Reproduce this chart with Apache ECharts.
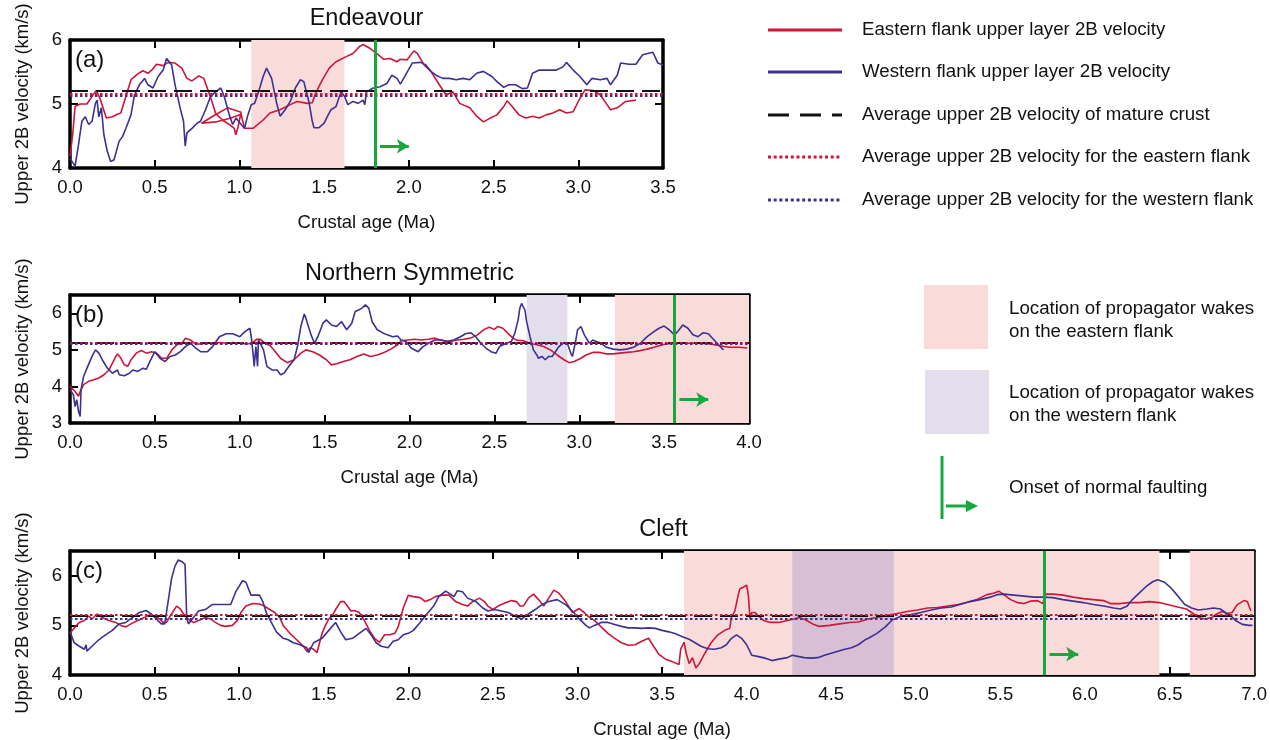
<!DOCTYPE html>
<html>
<head>
<meta charset="utf-8">
<title>Upper 2B velocity vs crustal age</title>
<script src="https://cdn.jsdelivr.net/npm/echarts@6/dist/echarts.min.js"></script>
<style>
html, body { margin: 0; padding: 0; background: #fff; }
#chart { width: 1270px; height: 740px; }
</style>
</head>
<body>
<div id="chart"></div>
<script>
// ---- data (crustal age in Ma, velocity in km/s) ----
var endeavourEast = [[0.00,4.18],[0.015,4.5],[0.03,4.96],[0.06,5.0],[0.10,5.0],[0.13,5.12],[0.155,5.21],[0.175,5.1],[0.20,4.9],[0.215,4.78],[0.25,4.8],[0.28,4.84],[0.30,4.86],[0.33,5.12],[0.36,5.38],[0.40,5.47],[0.43,5.52],[0.46,5.48],[0.49,5.55],[0.51,5.62],[0.55,5.6],[0.58,5.65],[0.62,5.64],[0.66,5.56],[0.69,5.40],[0.72,5.36],[0.76,5.44],[0.79,5.40],[0.83,5.1],[0.86,4.85],[0.90,4.75],[0.94,4.68],[0.97,4.62],[0.978,4.52],[0.99,4.62],[1.01,4.87],[0.93,4.94],[0.85,4.82],[0.776,4.70],[0.86,4.72],[0.95,4.78],[1.01,4.84],[1.03,4.62],[1.08,4.62],[1.14,4.75],[1.18,4.86],[1.24,4.91],[1.30,4.99],[1.34,5.04],[1.40,5.01],[1.43,5.02],[1.45,5.17],[1.49,5.38],[1.53,5.56],[1.57,5.66],[1.63,5.74],[1.67,5.79],[1.71,5.90],[1.73,5.93],[1.77,5.87],[1.81,5.79],[1.85,5.70],[1.89,5.71],[1.93,5.66],[1.95,5.70],[1.99,5.69],[2.03,5.83],[2.05,5.79],[2.09,5.61],[2.13,5.51],[2.18,5.30],[2.22,5.14],[2.26,5.19],[2.30,5.01],[2.36,4.94],[2.40,4.81],[2.44,4.72],[2.48,4.78],[2.52,4.83],[2.56,4.96],[2.58,5.05],[2.61,4.96],[2.65,4.83],[2.69,4.78],[2.73,4.81],[2.77,4.78],[2.81,4.83],[2.85,4.86],[2.89,4.91],[2.93,4.86],[2.97,4.88],[3.01,5.09],[3.04,5.22],[3.09,5.21],[3.13,5.14],[3.17,4.99],[3.19,4.91],[3.23,4.94],[3.28,5.04],[3.34,5.06]];
var endeavourWest = [[0.0,4.15],[0.01,4.13],[0.03,4.03],[0.05,4.36],[0.07,4.73],[0.09,4.8],[0.11,4.68],[0.13,4.73],[0.15,5.01],[0.16,5.06],[0.17,4.8],[0.185,4.94],[0.20,4.52],[0.22,4.26],[0.24,4.10],[0.26,4.13],[0.29,4.42],[0.31,4.49],[0.33,4.62],[0.36,4.83],[0.38,5.14],[0.41,5.30],[0.44,5.40],[0.46,5.30],[0.49,5.25],[0.52,5.43],[0.55,5.53],[0.57,5.71],[0.58,5.74],[0.60,5.61],[0.62,5.30],[0.65,4.94],[0.67,4.73],[0.68,4.34],[0.69,4.55],[0.72,4.62],[0.75,4.70],[0.77,4.73],[0.80,4.91],[0.83,5.12],[0.86,5.19],[0.89,5.25],[0.91,5.12],[0.94,4.83],[0.96,4.68],[0.98,4.78],[1.01,4.68],[1.03,4.62],[1.05,4.83],[1.07,4.99],[1.09,5.01],[1.12,5.25],[1.14,5.43],[1.16,5.56],[1.19,5.40],[1.22,5.01],[1.24,4.81],[1.27,4.91],[1.30,5.04],[1.33,5.25],[1.36,5.38],[1.38,5.35],[1.41,5.04],[1.43,4.73],[1.44,4.63],[1.47,4.63],[1.50,4.70],[1.52,4.81],[1.54,4.91],[1.57,4.96],[1.60,5.19],[1.62,5.12],[1.64,4.99],[1.67,5.04],[1.70,5.01],[1.73,5.06],[1.74,4.99],[1.75,5.19],[1.79,5.25],[1.83,5.27],[1.87,5.32],[1.90,5.45],[1.93,5.40],[1.95,5.31],[1.98,5.45],[2.02,5.64],[2.07,5.65],[2.10,5.61],[2.13,5.51],[2.16,5.45],[2.20,5.40],[2.24,5.40],[2.28,5.38],[2.32,5.40],[2.36,5.38],[2.40,5.48],[2.44,5.51],[2.49,5.43],[2.52,5.35],[2.56,5.26],[2.59,5.30],[2.63,5.30],[2.67,5.24],[2.70,5.25],[2.73,5.48],[2.77,5.53],[2.81,5.53],[2.87,5.53],[2.91,5.58],[2.93,5.65],[2.97,5.53],[3.01,5.43],[3.05,5.30],[3.08,5.40],[3.13,5.38],[3.17,5.40],[3.19,5.30],[3.23,5.45],[3.25,5.64],[3.30,5.62],[3.34,5.62],[3.38,5.77],[3.44,5.81],[3.47,5.64],[3.50,5.61]];

var northEast = [[0.0,4.0],[0.03,3.86],[0.05,3.73],[0.06,3.86],[0.08,4.05],[0.11,4.14],[0.14,4.18],[0.17,4.23],[0.20,4.32],[0.23,4.45],[0.25,4.64],[0.27,4.82],[0.28,4.89],[0.30,4.77],[0.32,4.59],[0.34,4.55],[0.36,4.73],[0.39,4.91],[0.42,4.98],[0.45,4.91],[0.48,4.95],[0.51,4.91],[0.54,4.77],[0.57,4.77],[0.60,5.0],[0.63,5.14],[0.66,5.18],[0.68,5.32],[0.71,5.27],[0.74,5.16],[0.77,5.16],[0.81,5.18],[0.84,5.18],[0.88,5.2],[0.92,5.18],[0.96,5.2],[1.0,5.18],[1.04,5.16],[1.07,5.18],[1.10,5.29],[1.12,5.29],[1.15,5.18],[1.18,5.11],[1.21,4.95],[1.24,4.77],[1.28,4.65],[1.32,4.73],[1.36,4.91],[1.39,5.0],[1.43,4.95],[1.47,4.86],[1.51,4.73],[1.54,4.59],[1.57,4.62],[1.61,4.68],[1.65,4.73],[1.69,4.82],[1.73,4.89],[1.77,4.82],[1.81,4.86],[1.85,4.93],[1.89,5.02],[1.93,5.14],[1.95,5.25],[1.99,5.27],[2.03,5.29],[2.07,5.27],[2.11,5.29],[2.15,5.32],[2.18,5.27],[2.20,5.25],[2.24,5.23],[2.28,5.27],[2.32,5.29],[2.36,5.32],[2.40,5.41],[2.44,5.56],[2.47,5.62],[2.50,5.56],[2.52,5.64],[2.55,5.59],[2.58,5.45],[2.61,5.32],[2.63,5.27],[2.67,5.25],[2.71,5.18],[2.75,5.14],[2.79,5.09],[2.83,5.0],[2.87,4.86],[2.91,4.73],[2.94,4.65],[2.97,4.68],[3.01,4.77],[3.04,4.86],[3.08,4.93],[3.12,4.93],[3.16,4.89],[3.20,4.89],[3.24,4.91],[3.28,4.93],[3.32,4.95],[3.36,4.98],[3.40,5.02],[3.44,5.07],[3.47,5.11],[3.51,5.16],[3.55,5.18],[3.59,5.18],[3.65,5.18],[3.71,5.18],[3.77,5.16],[3.83,5.11],[3.88,5.07],[3.94,5.07],[3.99,5.05]];
var northWest = [[0.0,3.91],[0.02,3.77],[0.03,3.45],[0.04,3.64],[0.05,3.32],[0.06,3.18],[0.065,3.91],[0.08,4.27],[0.10,4.5],[0.13,4.82],[0.15,5.0],[0.17,4.91],[0.19,4.73],[0.22,4.5],[0.25,4.36],[0.28,4.45],[0.29,4.32],[0.32,4.29],[0.35,4.36],[0.37,4.45],[0.40,4.41],[0.43,4.5],[0.45,4.47],[0.47,4.68],[0.50,4.95],[0.53,4.77],[0.56,4.68],[0.59,4.82],[0.62,4.86],[0.65,4.95],[0.68,5.09],[0.71,5.18],[0.74,5.05],[0.77,4.95],[0.81,4.95],[0.84,5.09],[0.88,5.36],[0.92,5.44],[0.96,5.44],[1.0,5.36],[1.03,5.5],[1.06,5.59],[1.07,5.27],[1.08,4.82],[1.085,4.55],[1.095,5.09],[1.105,4.55],[1.11,5.27],[1.14,5.0],[1.16,4.55],[1.19,4.45],[1.22,4.45],[1.24,4.32],[1.26,4.36],[1.29,4.55],[1.32,4.73],[1.34,5.09],[1.36,5.64],[1.38,5.98],[1.39,5.86],[1.42,5.41],[1.44,5.18],[1.46,5.36],[1.49,5.73],[1.51,5.82],[1.54,5.68],[1.57,5.64],[1.60,5.77],[1.63,5.55],[1.66,5.73],[1.68,6.05],[1.70,6.09],[1.72,6.14],[1.74,6.23],[1.76,6.14],[1.78,5.77],[1.81,5.55],[1.84,5.47],[1.87,5.41],[1.90,5.36],[1.93,5.38],[1.95,5.27],[1.98,5.23],[2.01,5.05],[2.05,4.95],[2.08,5.09],[2.11,5.18],[2.15,5.27],[2.19,5.27],[2.22,5.23],[2.26,5.27],[2.30,5.36],[2.33,5.44],[2.36,5.47],[2.39,5.36],[2.42,5.18],[2.45,5.05],[2.48,4.95],[2.51,4.91],[2.53,5.09],[2.57,5.18],[2.60,5.23],[2.62,5.45],[2.64,5.82],[2.65,6.14],[2.66,6.27],[2.68,6.09],[2.69,5.77],[2.71,5.36],[2.73,5.0],[2.75,4.86],[2.76,4.77],[2.78,4.82],[2.80,4.73],[2.82,4.82],[2.84,4.82],[2.86,4.95],[2.88,5.09],[2.91,5.2],[2.93,5.18],[2.95,4.91],[2.96,4.82],[2.98,5.27],[2.99,5.55],[3.01,5.64],[3.02,5.68],[3.03,5.41],[3.04,5.41],[3.06,5.18],[3.08,5.27],[3.10,5.23],[3.13,5.18],[3.16,5.07],[3.20,5.02],[3.24,5.0],[3.28,5.02],[3.32,5.07],[3.36,5.18],[3.40,5.36],[3.44,5.5],[3.47,5.59],[3.50,5.65],[3.53,5.55],[3.56,5.41],[3.58,5.5],[3.61,5.68],[3.64,5.59],[3.67,5.41],[3.70,5.36],[3.73,5.47],[3.76,5.44],[3.79,5.29],[3.82,5.14],[3.85,5.0]];

var cleftEast = [[0.0,4.84],[0.03,4.97],[0.055,5.06],[0.085,5.1],[0.11,5.19],[0.13,5.13],[0.16,5.23],[0.19,5.16],[0.23,5.1],[0.27,5.06],[0.30,5.0],[0.33,4.97],[0.36,5.03],[0.40,5.1],[0.44,5.16],[0.47,5.21],[0.50,5.19],[0.53,5.13],[0.55,5.06],[0.57,5.06],[0.60,5.23],[0.63,5.39],[0.65,5.34],[0.68,5.19],[0.71,5.1],[0.73,5.06],[0.76,5.1],[0.80,5.16],[0.83,5.13],[0.86,5.06],[0.89,5.0],[0.92,4.98],[0.96,5.0],[0.99,5.1],[1.01,5.26],[1.04,5.39],[1.08,5.44],[1.12,5.43],[1.15,5.39],[1.18,5.32],[1.21,5.26],[1.24,5.16],[1.26,5.0],[1.30,4.84],[1.34,4.71],[1.38,4.58],[1.40,4.48],[1.42,4.55],[1.44,4.52],[1.46,4.45],[1.47,4.58],[1.49,4.84],[1.51,5.0],[1.53,5.13],[1.55,5.19],[1.57,5.32],[1.60,5.48],[1.62,5.48],[1.64,5.39],[1.66,5.29],[1.68,5.3],[1.71,5.26],[1.74,5.1],[1.77,4.9],[1.80,4.74],[1.83,4.66],[1.86,4.81],[1.89,4.81],[1.92,4.84],[1.94,4.97],[1.97,5.35],[2.0,5.61],[2.03,5.58],[2.07,5.56],[2.10,5.48],[2.13,5.52],[2.16,5.58],[2.20,5.61],[2.24,5.61],[2.28,5.48],[2.32,5.42],[2.35,5.39],[2.38,5.48],[2.42,5.55],[2.45,5.48],[2.47,5.39],[2.50,5.32],[2.53,5.39],[2.57,5.45],[2.61,5.5],[2.64,5.48],[2.66,5.39],[2.68,5.39],[2.71,5.55],[2.74,5.63],[2.77,5.52],[2.80,5.39],[2.83,5.55],[2.86,5.71],[2.89,5.65],[2.93,5.48],[2.97,5.26],[3.01,5.34],[3.04,5.26],[3.06,5.19],[3.10,5.1],[3.14,4.97],[3.18,4.84],[3.22,4.74],[3.26,4.65],[3.30,4.6],[3.34,4.61],[3.38,4.68],[3.42,4.74],[3.45,4.58],[3.48,4.42],[3.52,4.32],[3.56,4.27],[3.60,4.21],[3.61,4.52],[3.63,4.66],[3.64,4.48],[3.65,4.35],[3.66,4.23],[3.68,4.35],[3.69,4.32],[3.70,4.14],[3.72,4.23],[3.75,4.42],[3.79,4.65],[3.83,4.81],[3.87,4.9],[3.90,4.94],[3.91,5.16],[3.93,5.29],[3.95,5.61],[3.96,5.74],[3.98,5.77],[4.0,5.81],[4.01,5.61],[4.02,5.13],[4.03,5.26],[4.05,5.26],[4.07,5.19],[4.10,5.1],[4.14,5.06],[4.19,5.06],[4.24,5.1],[4.28,5.13],[4.31,5.16],[4.35,5.11],[4.39,5.03],[4.43,4.98],[4.49,5.0],[4.55,5.03],[4.61,5.06],[4.66,5.07],[4.72,5.13],[4.77,5.16],[4.83,5.2],[4.89,5.24],[4.95,5.28],[5.01,5.31],[5.07,5.35],[5.13,5.36],[5.19,5.39],[5.25,5.42],[5.30,5.46],[5.36,5.52],[5.42,5.62],[5.46,5.65],[5.49,5.69],[5.52,5.62],[5.56,5.52],[5.60,5.46],[5.64,5.44],[5.68,5.49],[5.72,5.5],[5.75,5.44],[5.76,5.46],[5.77,5.63],[5.81,5.63],[5.87,5.61],[5.93,5.57],[5.99,5.54],[6.05,5.52],[6.11,5.5],[6.15,5.44],[6.21,5.44],[6.26,5.46],[6.32,5.46],[6.38,5.48],[6.44,5.46],[6.50,5.41],[6.56,5.36],[6.60,5.33],[6.63,5.26],[6.67,5.16],[6.71,5.13],[6.75,5.16],[6.78,5.23],[6.81,5.28],[6.84,5.24],[6.87,5.26],[6.90,5.42],[6.94,5.5],[6.96,5.48],[6.98,5.29]];
var cleftWest = [[0.0,4.87],[0.025,4.65],[0.055,4.58],[0.085,4.52],[0.095,4.61],[0.10,4.48],[0.13,4.58],[0.17,4.71],[0.21,4.81],[0.25,4.9],[0.29,5.03],[0.33,5.06],[0.37,5.16],[0.41,5.26],[0.45,5.3],[0.48,5.23],[0.51,5.13],[0.54,5.03],[0.56,5.03],[0.58,5.48],[0.60,5.94],[0.62,6.19],[0.64,6.32],[0.66,6.29],[0.68,6.23],[0.69,5.16],[0.70,5.03],[0.73,5.16],[0.76,5.29],[0.80,5.32],[0.84,5.42],[0.88,5.42],[0.92,5.42],[0.95,5.42],[0.98,5.68],[1.02,5.9],[1.04,5.87],[1.07,5.61],[1.10,5.61],[1.12,5.61],[1.14,5.48],[1.16,5.26],[1.19,5.06],[1.22,4.87],[1.26,4.74],[1.29,4.71],[1.32,4.65],[1.36,4.61],[1.40,4.55],[1.41,4.45],[1.44,4.65],[1.49,4.74],[1.53,4.9],[1.57,5.06],[1.60,4.87],[1.63,4.71],[1.67,4.74],[1.71,4.84],[1.75,4.94],[1.78,4.81],[1.81,4.65],[1.84,4.58],[1.88,4.55],[1.91,4.68],[1.94,4.71],[1.97,4.81],[2.0,4.84],[2.03,4.9],[2.07,5.06],[2.11,5.23],[2.15,5.39],[2.18,5.58],[2.22,5.69],[2.24,5.65],[2.27,5.58],[2.29,5.7],[2.32,5.68],[2.35,5.55],[2.36,5.52],[2.40,5.48],[2.44,5.35],[2.47,5.29],[2.51,5.32],[2.55,5.29],[2.59,5.26],[2.63,5.19],[2.67,5.13],[2.71,5.23],[2.75,5.32],[2.79,5.42],[2.83,5.48],[2.88,5.52],[2.93,5.42],[2.97,5.29],[3.01,5.13],[3.05,5.0],[3.07,4.95],[3.10,5.0],[3.14,5.06],[3.18,5.06],[3.22,5.02],[3.26,4.98],[3.30,4.95],[3.34,4.95],[3.38,4.94],[3.42,4.95],[3.46,4.94],[3.50,4.9],[3.54,4.87],[3.58,4.83],[3.62,4.77],[3.66,4.72],[3.69,4.66],[3.73,4.58],[3.77,4.53],[3.81,4.52],[3.85,4.55],[3.88,4.61],[3.91,4.74],[3.94,4.81],[3.97,4.74],[4.0,4.61],[4.03,4.4],[4.07,4.37],[4.11,4.34],[4.15,4.29],[4.19,4.32],[4.24,4.35],[4.27,4.4],[4.31,4.37],[4.34,4.35],[4.38,4.34],[4.42,4.35],[4.46,4.4],[4.50,4.44],[4.54,4.48],[4.58,4.52],[4.62,4.55],[4.66,4.61],[4.70,4.71],[4.72,4.74],[4.77,4.84],[4.82,4.97],[4.86,5.11],[4.91,5.18],[4.97,5.22],[5.03,5.26],[5.09,5.31],[5.15,5.35],[5.21,5.37],[5.26,5.42],[5.32,5.48],[5.38,5.52],[5.44,5.57],[5.48,5.62],[5.52,5.63],[5.58,5.61],[5.64,5.59],[5.70,5.57],[5.75,5.57],[5.81,5.56],[5.87,5.52],[5.93,5.49],[5.99,5.46],[6.05,5.42],[6.11,5.39],[6.17,5.35],[6.21,5.33],[6.25,5.39],[6.28,5.52],[6.32,5.65],[6.36,5.78],[6.40,5.88],[6.43,5.92],[6.47,5.87],[6.51,5.75],[6.55,5.59],[6.59,5.42],[6.63,5.35],[6.67,5.31],[6.72,5.33],[6.76,5.35],[6.80,5.33],[6.83,5.26],[6.86,5.2],[6.89,5.1],[6.93,5.02],[6.97,5.0],[6.99,5.0]];

var panelTitles = ['Endeavour', 'Northern Symmetric', 'Cleft'];
var panelTags = ['(a)', '(b)', '(c)'];
var eastSeries = [endeavourEast, northEast, cleftEast];
var westSeries = [endeavourWest, northWest, cleftWest];
var ageMax = [3.5, 4.0, 7.0];
var velMin = [4, 3, 4];
var velMax = [6, 6.5, 6.5];
var matureAvg = [5.2, 5.2, 5.2];
var eastAvg = [5.16, 5.19, 5.21];
var westAvg = [5.13, 5.17, 5.13];
var eastWakes = [[[1.07, 1.62]], [[3.21, 4.0]], [[3.63, 6.44], [6.62, 7.0]]];
var westWakes = [[], [[2.69, 2.93]], [[4.27, 4.87]]];
var faultOnset = [1.80, 3.56, 5.765];
var faultArrow = [[1.83, 2.0, 4.34], [3.59, 3.76, 3.64], [5.79, 5.96, 4.42]];

var legendLines = [
    'Eastern flank upper layer 2B velocity',
    'Western flank upper layer 2B velocity',
    'Average upper 2B velocity of mature crust',
    'Average upper 2B velocity for the eastern flank',
    'Average upper 2B velocity for the western flank'
];

// ---- styles / layout ----
var FONT = '"Liberation Sans", Arial, Helvetica, sans-serif';
var RED = '#cf1539';
var BLUE = '#3c3193';
var GREEN = '#17a83b';
var PINK = '#f9dcd9';
var PURPLE = ['#e3ddec', '#e3ddec', '#d9bfd6'];
var AXIS_FONT = 18.5;
var LEGEND_FONT = '18.7px ' + FONT;

var boxes = [
    { left: 70, top: 40, width: 593, height: 128 },
    { left: 70, top: 295, width: 679, height: 128 },
    { left: 70, top: 551, width: 1187, height: 127 }
];

var chart = echarts.init(document.getElementById('chart'));

var grids = [], xAxes = [], yAxes = [], series = [], graphics = [];

function frameLine() {
    return { show: true, onZero: false, lineStyle: { color: '#000', width: 3.5 } };
}
function frameTick() {
    return { show: true, inside: true, length: 8, lineStyle: { color: '#000', width: 2 } };
}

for (var i = 0; i < 3; i++) {
    var b = boxes[i];
    grids.push({ left: b.left, top: b.top, width: b.width, height: b.height, containLabel: false });

    // bottom + top x axes
    xAxes.push({
        type: 'value', gridIndex: i, position: 'bottom', min: 0, max: ageMax[i], interval: 0.5,
        axisLine: frameLine(), axisTick: frameTick(), splitLine: { show: false },
        axisLabel: { margin: 10, color: '#111', fontSize: AXIS_FONT, fontFamily: FONT,
            formatter: function (v) { return v.toFixed(1); } },
        name: 'Crustal age (Ma)', nameLocation: 'middle', nameGap: 45,
        nameTextStyle: { fontSize: AXIS_FONT, color: '#111', fontFamily: FONT }
    });
    xAxes.push({
        type: 'value', gridIndex: i, position: 'top', min: 0, max: ageMax[i], interval: 0.5,
        axisLine: frameLine(), axisTick: frameTick(), splitLine: { show: false },
        axisLabel: { show: false }
    });
    // left + right y axes
    yAxes.push({
        type: 'value', gridIndex: i, position: 'left', min: velMin[i], max: velMax[i], interval: 1,
        axisLine: frameLine(), axisTick: frameTick(), splitLine: { show: false },
        axisLabel: { margin: 8, color: '#111', fontSize: AXIS_FONT, fontFamily: FONT,
            showMaxLabel: velMax[i] % 1 === 0 },
        name: 'Upper 2B velocity (km/s)', nameLocation: 'middle', nameGap: 38, nameRotate: 90,
        nameTextStyle: { fontSize: AXIS_FONT, color: '#111', fontFamily: FONT }
    });
    yAxes.push({
        type: 'value', gridIndex: i, position: 'right', min: velMin[i], max: velMax[i], interval: 1,
        axisLine: frameLine(), axisTick: frameTick(), splitLine: { show: false },
        axisLabel: { show: false }
    });

    var xi = 2 * i, yi = 2 * i;

    // propagator wake shading
    var areas = [];
    eastWakes[i].forEach(function (w) {
        areas.push([{ xAxis: w[0], itemStyle: { color: PINK } }, { xAxis: w[1] }]);
    });
    westWakes[i].forEach(function (w) {
        areas.push([{ xAxis: w[0], itemStyle: { color: PURPLE[i] } }, { xAxis: w[1] }]);
    });
    series.push({
        type: 'line', xAxisIndex: xi, yAxisIndex: yi, data: [], z: 1, silent: true,
        markArea: { silent: true, data: areas }
    });

    // velocity profiles
    series.push({
        name: 'east' + i, type: 'line', xAxisIndex: xi, yAxisIndex: yi, data: eastSeries[i],
        showSymbol: false, symbol: 'none', z: 3,
        lineStyle: { color: RED, width: 1.6 }, itemStyle: { color: RED }
    });
    series.push({
        name: 'west' + i, type: 'line', xAxisIndex: xi, yAxisIndex: yi, data: westSeries[i],
        showSymbol: false, symbol: 'none', z: 3,
        lineStyle: { color: BLUE, width: 1.6 }, itemStyle: { color: BLUE }
    });

    // average reference lines + onset of normal faulting
    series.push({
        type: 'line', xAxisIndex: xi, yAxisIndex: yi, data: [], z: 4, silent: true,
        markLine: {
            silent: true, symbol: 'none', label: { show: false },
            data: [
                { yAxis: matureAvg[i], lineStyle: { color: '#111', width: 2, type: [18, 8] } },
                { yAxis: eastAvg[i], lineStyle: { color: RED, width: 2, type: [2.5, 2.5] } },
                { yAxis: westAvg[i], lineStyle: { color: BLUE, width: 2, type: [2.5, 2.5] } },
                { xAxis: faultOnset[i], lineStyle: { color: GREEN, width: 3, type: 'solid' } }
            ]
        }
    });
    series.push({
        type: 'line', xAxisIndex: xi, yAxisIndex: yi, data: [], z: 5, silent: true,
        markLine: {
            silent: true, symbol: ['none', 'arrow'], symbolSize: [11, 12], label: { show: false },
            lineStyle: { color: GREEN, width: 3, type: 'solid' },
            data: [[{ coord: [faultArrow[i][0], faultArrow[i][2]] },
                    { coord: [faultArrow[i][1], faultArrow[i][2]] }]]
        }
    });

    // panel title and tag
    graphics.push({
        type: 'text', x: b.left + b.width / 2, y: b.top - 21,
        style: { text: panelTitles[i], fill: '#111', font: '23.5px ' + FONT, align: 'center', verticalAlign: 'middle' }
    });
    graphics.push({
        type: 'text', x: b.left + 5, y: b.top + 20, z: 10,
        style: { text: panelTags[i], fill: '#111', font: '24px ' + FONT, align: 'left', verticalAlign: 'middle' }
    });
}

// ---- right-hand legend ----
var legendY = [30, 72, 115, 157, 200];
var legendStyles = [
    { stroke: RED, lineWidth: 3 },
    { stroke: BLUE, lineWidth: 3 },
    { stroke: '#111', lineWidth: 3, lineDash: [21, 11] },
    { stroke: RED, lineWidth: 3, lineDash: [3, 2.7] },
    { stroke: BLUE, lineWidth: 3, lineDash: [3, 2.7] }
];
for (var k = 0; k < legendLines.length; k++) {
    graphics.push({
        type: 'line', shape: { x1: 768, y1: legendY[k], x2: 842, y2: legendY[k] },
        style: legendStyles[k]
    });
    graphics.push({
        type: 'text', x: 862, y: legendY[k],
        style: { text: legendLines[k], fill: '#111', font: LEGEND_FONT, verticalAlign: 'middle' }
    });
}
graphics.push({ type: 'rect', shape: { x: 924, y: 285, width: 64, height: 64 }, style: { fill: PINK } });
graphics.push({
    type: 'text', x: 1009, y: 320,
    style: { text: 'Location of propagator wakes\non the eastern flank', fill: '#111',
        font: LEGEND_FONT, verticalAlign: 'middle', lineHeight: 23 }
});
graphics.push({ type: 'rect', shape: { x: 925, y: 370, width: 64, height: 64 }, style: { fill: PURPLE[0] } });
graphics.push({
    type: 'text', x: 1009, y: 404,
    style: { text: 'Location of propagator wakes\non the western flank', fill: '#111',
        font: LEGEND_FONT, verticalAlign: 'middle', lineHeight: 23 }
});
graphics.push({ type: 'line', shape: { x1: 942, y1: 456, x2: 942, y2: 519 }, style: { stroke: GREEN, lineWidth: 3 } });
graphics.push({ type: 'line', shape: { x1: 946, y1: 506, x2: 968, y2: 506 }, style: { stroke: GREEN, lineWidth: 3 } });
graphics.push({ type: 'polygon', shape: { points: [[966, 500], [978, 506], [966, 512]] }, style: { fill: GREEN } });
graphics.push({
    type: 'text', x: 1009, y: 488,
    style: { text: 'Onset of normal faulting', fill: '#111', font: LEGEND_FONT, verticalAlign: 'middle' }
});

chart.setOption({
    animation: false,
    backgroundColor: '#fff',
    grid: grids,
    xAxis: xAxes,
    yAxis: yAxes,
    series: series,
    graphic: graphics
});
</script>
</body>
</html>
